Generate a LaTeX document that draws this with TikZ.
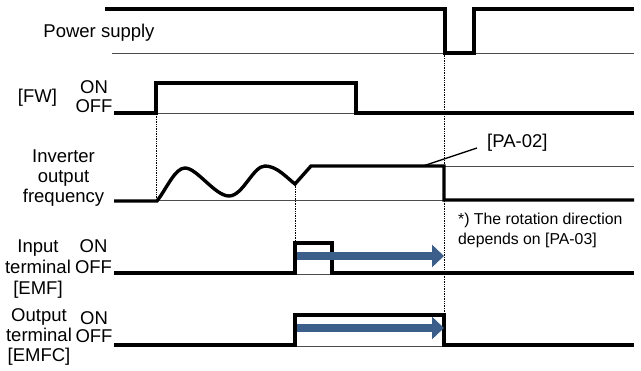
\documentclass[tikz,border=0pt]{standalone}
\usepackage{fontspec}
\setmainfont{Liberation Sans}
\usetikzlibrary{arrows.meta, positioning}
\definecolor{flowblue}{RGB}{59,94,139}

\begin{document}
\begin{tikzpicture}[
    x=1pt, y=-1pt,
    lbl/.style={font=\fontsize{18.5}{20}\selectfont, inner sep=0pt, anchor=base},
    note/.style={font=\fontsize{15.8}{20}\selectfont, inner sep=0pt, anchor=base west},
    sig/.style={line width=3.4pt},
    base/.style={line width=0.9pt, draw=black!70},
    marker/.style={densely dotted, line width=0.7pt},
    flow/.style={draw=flowblue, line width=8pt, -{Triangle[length=12pt, width=22pt]}},
    leader/.style={line width=1.3pt}
  ]
    \useasboundingbox (0,0) rectangle (641,371);

    % Labels
    \node[lbl] (power) at (99,38) {Power supply};
    \node[lbl] (fw) at (37.5,103) {[FW]};
    \node[lbl] (fwon) at (94,94) {ON};
    \node[lbl] (fwoff) at (94,113) {OFF};

    \node[lbl] (inv) at (63.5,163) {Inverter};
    \node[lbl, below=20pt of inv.base, anchor=base] (invout) {output};
    \node[lbl, below=20pt of invout.base, anchor=base] (invfreq) {frequency};

    \node[lbl] (emf) at (38,253) {Input};
    \node[lbl, below=21pt of emf.base, anchor=base] (emfterm) {terminal};
    \node[lbl, below=21pt of emfterm.base, anchor=base] (emfname) {[EMF]};
    \node[lbl] (emfon) at (93.5,253) {ON};
    \node[lbl] (emfoff) at (93.5,274) {OFF};

    \node[lbl] (emfc) at (39,322) {Output};
    \node[lbl, below=20pt of emfc.base, anchor=base] (emfcterm) {terminal};
    \node[lbl, below=20pt of emfcterm.base, anchor=base] (emfcname) {[EMFC]};
    \node[lbl] (emfcon) at (94,325) {ON};
    \node[lbl] (emfcoff) at (94,343) {OFF};

    \node[lbl, anchor=base west] (pa02) at (487,148) {[PA-02]};
    \node[note] (rot) at (458,225) {*) The rotation direction};
    \node[note, below=20pt of rot.base west, anchor=base west] (rot2) {depends on [PA-03]};

    % Baselines
    \draw[base] (112,53) -- (634,53);
    \draw[base] (114,113) -- (634,113);
    \draw[base] (157,200) -- (444,200);
    \draw[base] (444,166) -- (634,166);
    \draw[base] (295,274) -- (332,274);
    \draw[base] (295,346) -- (444,346);

    % Time markers
    \draw[marker] (156,114) -- (156,200);
    \draw[marker] (295,184) -- (295,243);
    \draw[marker] (444,53) -- (444,313);

    % Signals
    \draw[sig] (105,9) -- (445,9) -- (445,53) -- (474,53) -- (474,9) -- (634,9);
    \draw[sig] (114,113) -- (156,113) -- (156,83) -- (356,83) -- (356,113) -- (634,113);
    \draw[sig] (114,201) -- (157,201)
        .. controls (167,188) and (175,168) .. (185,168)
        .. controls (197,168) and (215,196) .. (229,196)
        .. controls (243,196) and (253,166) .. (265,166)
        .. controls (277,166) and (287,178) .. (295,184)
        -- (311,166) -- (444,166) -- (444,200) -- (634,200);
    \draw[sig] (114,273) -- (295,273) -- (295,243) -- (332,243) -- (332,273) -- (634,273);
    \draw[sig] (114,345) -- (295,345) -- (295,315) -- (444,315) -- (444,345) -- (634,345);

    % Flow arrows
    \coordinate (emfstart) at (297,256);
    \coordinate (emfend) at (444,256);
    \coordinate (emfcstart) at (297,328);
    \coordinate (emfcend) at (444,328);
    \draw[flow] (emfstart) -- (emfend);
    \draw[flow] (emfcstart) -- (emfcend);

    % Leader
    \coordinate (pa02tip) at (423,166);
    \draw[leader] ([xshift=-10pt]pa02.base west) -- (pa02tip);

  \end{tikzpicture}
\end{document}
